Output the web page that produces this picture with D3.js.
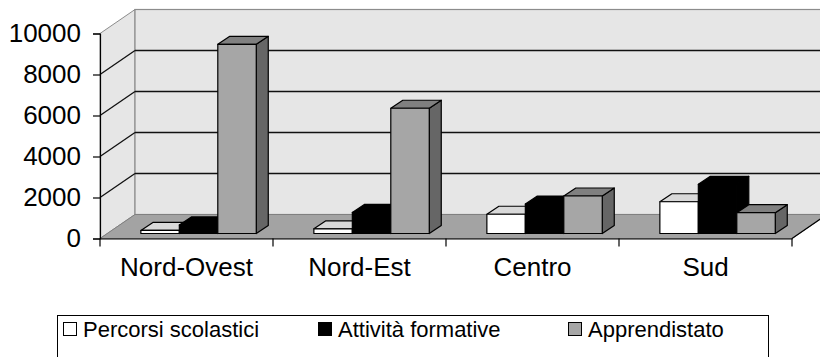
<!DOCTYPE html>
<html>
<head>
<meta charset="utf-8">
<script src="https://cdn.jsdelivr.net/npm/d3@7"></script>
<style>
  html, body { margin: 0; padding: 0; background: #fff; }
  svg { display: block; font-family: "Liberation Sans", Arial, sans-serif; }
</style>
</head>
<body>
<svg id="chart" width="820" height="357"></svg>
<script>
// Regions and series
const categories = ["Nord-Ovest", "Nord-Est", "Centro", "Sud"];
const seriesNames = ["Percorsi scolastici", "Attività formative", "Apprendistato"];
const percorsiScolastici = [150, 230, 940, 1550];
const attivitaFormative = [420, 1030, 1440, 2400];
const apprendistato = [9230, 6110, 1830, 1015];
const yTicks = [0, 2000, 4000, 6000, 8000, 10000];

const seriesValues = [percorsiScolastici, attivitaFormative, apprendistato];

// Face colours for each series: front, top, side
const faceColors = [
  { front: "#ffffff", top: "#d9d9d9", side: "#bfbfbf" },
  { front: "#000000", top: "#000000", side: "#000000" },
  { front: "#a6a6a6", top: "#808080", side: "#666666" }
];

const svg = d3.select("#chart");

// Front plane of the plot and the receding depth of the floor
const x0 = 100, x1 = 792;
const depthX = 35, depthY = -24;
const x = d3.scaleBand().domain(categories).range([x0, x1]);
const y = d3.scaleLinear().domain([0, 10000]).range([238.5, 33.5]);
const yBack = v => y(v) + depthY;

// Bars sit a little behind the front edge and have their own depth
const barShiftX = 8, barShiftY = -5;
const barDX = 12, barDY = -8;
const inner = d3.scaleBand().domain(d3.range(seriesNames.length))
  .range([x.bandwidth() * 0.19, x.bandwidth() * 0.857]);

// Side wall
svg.append("polygon")
  .attr("points", [[x0, y(0)], [x0 + depthX, yBack(0)], [x0 + depthX, yBack(10000)], [x0, y(10000)]].join(" "))
  .attr("fill", "#e6e6e6").attr("stroke", "#8c8c8c").attr("stroke-width", 1);

// Back wall
svg.append("rect")
  .attr("x", x0 + depthX).attr("y", yBack(10000))
  .attr("width", 830 - (x0 + depthX)).attr("height", yBack(0) - yBack(10000))
  .attr("fill", "#e6e6e6").attr("stroke", "#8c8c8c").attr("stroke-width", 1.2);

// Gridlines across the side wall and back wall
const gridVals = yTicks.filter(v => v > 0 && v < 10000);
const grid = svg.append("g").attr("stroke", "#111").attr("stroke-width", 1.3).attr("fill", "none");
gridVals.forEach(v => {
  grid.append("line").attr("x1", x0).attr("y1", y(v)).attr("x2", x0 + depthX).attr("y2", yBack(v));
  grid.append("line").attr("x1", x0 + depthX).attr("y1", yBack(v)).attr("x2", 830).attr("y2", yBack(v));
});

// Floor
svg.append("polygon")
  .attr("points", [[x0, y(0)], [x1, y(0)], [x1 + depthX, yBack(0)], [x0 + depthX, yBack(0)]].join(" "))
  .attr("fill", "#a3a3a3").attr("stroke", "#808080").attr("stroke-width", 1);
svg.append("line")
  .attr("x1", x1).attr("y1", y(0)).attr("x2", x1 + depthX).attr("y2", yBack(0))
  .attr("stroke", "#000").attr("stroke-width", 1.2);

// 3D columns, drawn left to right so each front hides the previous side
const bars = svg.append("g").attr("stroke", "#000").attr("stroke-width", 1.2).attr("stroke-linejoin", "round");
categories.forEach((cat, ci) => {
  seriesValues.forEach((vals, si) => {
    const v = vals[ci];
    const bx = x(cat) + inner(si) + barShiftX;
    const bw = inner.bandwidth();
    const top = y(v) + barShiftY;
    const bottom = y(0) + barShiftY;
    const c = faceColors[si];
    const g = bars.append("g");
    g.append("polygon")
      .attr("points", [[bx + bw, top], [bx + bw + barDX, top + barDY], [bx + bw + barDX, bottom + barDY], [bx + bw, bottom]].join(" "))
      .attr("fill", c.side);
    g.append("polygon")
      .attr("points", [[bx, top], [bx + barDX, top + barDY], [bx + bw + barDX, top + barDY], [bx + bw, top]].join(" "))
      .attr("fill", c.top);
    g.append("rect")
      .attr("x", bx).attr("y", top).attr("width", bw).attr("height", bottom - top)
      .attr("fill", c.front);
  });
});

// Value axis
const yAxis = d3.axisLeft(y).tickValues(yTicks).tickSize(7).tickPadding(12).tickFormat(d3.format("d"));
const gy = svg.append("g").attr("transform", `translate(${x0},0)`).call(yAxis);
gy.select(".domain").attr("stroke", "#000").attr("stroke-width", 1.2);
gy.selectAll(".tick line").attr("stroke", "#000").attr("stroke-width", 1.2);
gy.selectAll(".tick text").attr("font-size", 26).attr("fill", "#000")
  .attr("font-family", "'Liberation Sans', Arial, sans-serif");

// Category axis
const xAxis = d3.axisBottom(x).tickSize(0).tickPadding(19);
const gx = svg.append("g").attr("transform", `translate(0,${y(0)})`).call(xAxis);
gx.select(".domain").attr("stroke", "#000").attr("stroke-width", 1.2);
gx.selectAll(".tick text").attr("font-size", 26).attr("fill", "#000")
  .attr("font-family", "'Liberation Sans', Arial, sans-serif");
// Category dividers below the axis
const dividers = x.domain().map(d => x(d)).concat([x1]);
gx.selectAll(".divider").data(dividers).enter().append("line")
  .attr("class", "divider")
  .attr("x1", d => d).attr("x2", d => d).attr("y1", 0).attr("y2", 8)
  .attr("stroke", "#000").attr("stroke-width", 1.2);

// Legend
const legend = svg.append("g");
legend.append("rect")
  .attr("x", 57.5).attr("y", 315.5).attr("width", 711).attr("height", 50)
  .attr("fill", "#fff").attr("stroke", "#000").attr("stroke-width", 1);
const legendX = [63, 318, 568];
seriesNames.forEach((name, i) => {
  legend.append("rect")
    .attr("x", legendX[i] + 0.5).attr("y", 322.5).attr("width", 13).attr("height", 13)
    .attr("fill", faceColors[i].front).attr("stroke", "#000").attr("stroke-width", 1);
  legend.append("text")
    .attr("x", legendX[i] + 20).attr("y", 336.5)
    .attr("font-size", 22).attr("fill", "#000")
    .text(name);
});
</script>
</body>
</html>
